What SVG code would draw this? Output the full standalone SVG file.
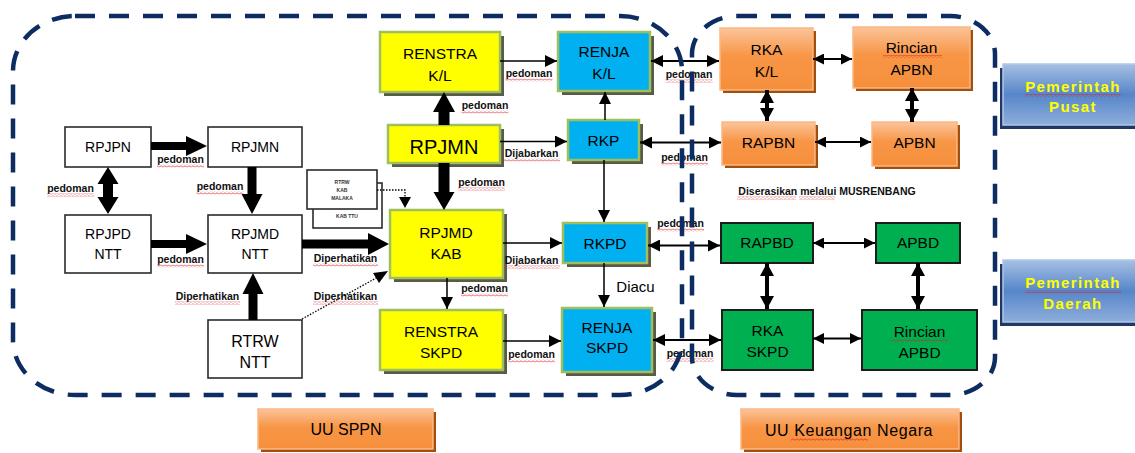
<svg xmlns="http://www.w3.org/2000/svg" width="1135" height="453" viewBox="0 0 1135 453">
<defs>
<linearGradient id="gOr" x1="0" y1="0" x2="0" y2="1">
<stop offset="0" stop-color="#fbc49a"/><stop offset="0.45" stop-color="#f79646"/><stop offset="1" stop-color="#f68f3c"/>
</linearGradient>
<linearGradient id="gBl" x1="0" y1="0" x2="0" y2="1">
<stop offset="0" stop-color="#a6c0e3"/><stop offset="0.5" stop-color="#5686c9"/><stop offset="1" stop-color="#8eaedc"/>
</linearGradient>
<pattern id="wave" width="4" height="3" patternUnits="userSpaceOnUse">
<path d="M0,1.5 Q1,0 2,1.5 T4,1.5" fill="none" stroke="#e02020" stroke-width="0.7"/>
</pattern>
<marker id="ah" markerWidth="12" markerHeight="12" refX="12" refY="6" orient="auto-start-reverse" markerUnits="userSpaceOnUse">
<path d="M0,0 L12,6 L0,12 z" fill="#000"/>
</marker>
<marker id="ahs" markerWidth="11" markerHeight="11" refX="11" refY="5.5" orient="auto-start-reverse" markerUnits="userSpaceOnUse">
<path d="M0,0 L11,5.5 L0,11 z" fill="#000"/>
</marker>
<marker id="ahb" markerWidth="13" markerHeight="14" refX="13" refY="7" orient="auto-start-reverse" markerUnits="userSpaceOnUse">
<path d="M0,0 L13,7 L0,14 z" fill="#000"/>
</marker>
</defs>
<style>
.wh{fill:#fff;stroke:#2b2b2b;stroke-width:1.6}
.ye{fill:#ffff00;stroke:#9fbe5c;stroke-width:2.5}
.bl{fill:#00b0f0;stroke:#9fbe5c;stroke-width:2.5}
.sh{fill:#5a5a4a}
.or{fill:url(#gOr);stroke:#fbb884;stroke-width:1.5}
.osh{fill:#a24f0b}
.gr{fill:#00b050;stroke:#1c1c1c;stroke-width:2}
.pm{fill:url(#gBl);stroke:#b0c8e8;stroke-width:1.5}
.psh{fill:#1f3964}
.t{font-family:"Liberation Sans",Arial,sans-serif;font-size:15.5px;fill:#000;text-anchor:middle}
.tw{font-family:"Liberation Sans",Arial,sans-serif;font-size:14px;fill:#000;text-anchor:middle}
.tp{font-family:"Liberation Sans",Arial,sans-serif;font-size:15px;font-weight:bold;fill:#ffff00;text-anchor:middle;letter-spacing:1.4px}
.tu{font-family:"Liberation Sans",Arial,sans-serif;font-size:16px;fill:#000;text-anchor:middle}
.lb{font-family:"Liberation Sans",Arial,sans-serif;font-size:10.5px;font-weight:bold;fill:#111;text-anchor:middle}
.tiny{font-family:"Liberation Sans",Arial,sans-serif;font-size:5px;font-weight:bold;fill:#333;text-anchor:middle}
.ln{fill:none;stroke:#000;stroke-width:1.5}
.ln2{fill:none;stroke:#000;stroke-width:2}
.lnb{fill:none;stroke:#000;stroke-width:4}
.dot{fill:none;stroke:#000;stroke-width:1.3;stroke-dasharray:1.5 1.5}
.blk{fill:#000}
.wv{fill:url(#wave)}
.rg{fill:none;stroke:#0d2c62;stroke-width:4.5;stroke-dasharray:20 14}
</style>

<!-- white nodes -->
<g id="RPJPN"><rect class="wh" x="65" y="127" width="86" height="40"/><text class="tw" x="108" y="152">RPJPN</text></g>
<g id="RPJMN_nasional"><rect class="wh" x="208" y="127" width="94" height="40"/><text class="tw" x="255" y="152">RPJMN</text></g>
<g id="RPJPD_NTT"><rect class="wh" x="65" y="215" width="86" height="58"/><text class="tw" x="108" y="239">RPJPD</text><text class="tw" x="108" y="259">NTT</text></g>
<g id="RPJMD_NTT"><rect class="wh" x="208" y="215" width="94" height="58"/><text class="tw" x="255" y="239">RPJMD</text><text class="tw" x="255" y="259">NTT</text></g>
<g id="RTRW_NTT"><rect class="wh" x="208" y="320" width="94" height="58"/><text class="tu" x="255" y="347">RTRW</text><text class="tu" x="255" y="368">NTT</text></g>
<g id="RTRW_KAB">
<rect class="wh" x="313" y="183" width="69" height="45" stroke-width="1.3"/><text class="tiny" x="347" y="218">KAB TTU</text>
<rect class="wh" x="307" y="170" width="70" height="39" stroke-width="1.3"/>
<text class="tiny" x="342" y="184">RTRW</text><text class="tiny" x="342" y="192">KAB</text><text class="tiny" x="342" y="200">MALAKA</text>
</g>

<!-- yellow nodes -->
<g id="RENSTRA_KL"><rect class="sh" x="384" y="36" width="120" height="60"/><rect class="ye" x="380" y="32" width="120" height="60"/><text class="t" x="440" y="59">RENSTRA</text><text class="t" x="440" y="81">K/L</text></g>
<g id="RPJMN"><rect class="sh" x="392" y="129" width="112" height="38"/><rect class="ye" x="388" y="125" width="112" height="38"/><text class="t" x="444" y="154" style="font-size:20px">RPJMN</text></g>
<g id="RPJMD_KAB"><rect class="sh" x="394" y="214" width="113" height="68"/><rect class="ye" x="390" y="210" width="113" height="68"/><text class="t" x="446" y="238">RPJMD</text><text class="t" x="446" y="259">KAB</text></g>
<g id="RENSTRA_SKPD"><rect class="sh" x="384" y="314" width="123" height="60"/><rect class="ye" x="380" y="310" width="123" height="60"/><text class="t" x="441" y="337">RENSTRA</text><text class="t" x="441" y="358">SKPD</text></g>

<!-- blue nodes -->
<g id="RENJA_KL"><rect class="sh" x="562" y="36" width="92" height="59"/><rect class="bl" x="558" y="32" width="92" height="59"/><text class="t" x="604" y="57">RENJA</text><text class="t" x="604" y="79">K/L</text></g>
<g id="RKP"><rect class="sh" x="572" y="124" width="71" height="40"/><rect class="bl" x="568" y="120" width="71" height="40"/><text class="t" x="603.5" y="146">RKP</text></g>
<g id="RKPD"><rect class="sh" x="567" y="227" width="84" height="40"/><rect class="bl" x="563" y="223" width="84" height="40"/><text class="t" x="605" y="249">RKPD</text></g>
<g id="RENJA_SKPD"><rect class="sh" x="566" y="312" width="90" height="64"/><rect class="bl" x="562" y="308" width="90" height="64"/><text class="t" x="607" y="333">RENJA</text><text class="t" x="607" y="353">SKPD</text></g>

<!-- orange nodes -->
<g id="RKA_KL"><rect class="osh" x="723" y="31" width="93" height="62"/><rect class="or" x="720" y="28" width="93" height="62"/><text class="t" x="766.5" y="55">RKA</text><text class="t" x="766.5" y="77">K/L</text></g>
<g id="RINCIAN_APBN"><rect class="osh" x="856" y="30" width="117" height="61"/><rect class="or" x="853" y="27" width="117" height="61"/><text class="t" x="911.5" y="53">Rincian</text><text class="t" x="911.5" y="75">APBN</text><rect class="wv" x="883" y="55" width="59" height="3"/></g>
<g id="RAPBN"><rect class="osh" x="725" y="125" width="93" height="43"/><rect class="or" x="722" y="122" width="93" height="43"/><text class="t" x="768.5" y="148">RAPBN</text></g>
<g id="APBN"><rect class="osh" x="875" y="125" width="85" height="44"/><rect class="or" x="872" y="122" width="85" height="44"/><text class="t" x="914.5" y="148">APBN</text></g>

<!-- green nodes -->
<g id="RAPBD"><rect class="gr" x="721" y="223" width="92" height="40"/><text class="t" x="767" y="248">RAPBD</text></g>
<g id="APBD"><rect class="gr" x="876" y="223" width="84" height="40"/><text class="t" x="918" y="248">APBD</text></g>
<g id="RKA_SKPD"><rect class="gr" x="722" y="310" width="91" height="60"/><text class="t" x="767.5" y="336">RKA</text><text class="t" x="767.5" y="357">SKPD</text></g>
<g id="RINCIAN_APBD"><rect class="gr" x="862" y="310" width="115" height="60"/><text class="t" x="919.5" y="337">Rincian</text><text class="t" x="919.5" y="358">APBD</text><rect class="wv" x="891" y="339" width="57" height="3"/></g>

<!-- side labels -->
<g id="PEMERINTAH_PUSAT"><rect class="psh" x="1000" y="68" width="140" height="61"/><rect class="pm" x="1003" y="64" width="135" height="61"/><text class="tp" x="1073" y="92">Pemerintah</text><text class="tp" x="1073" y="112">Pusat</text><rect class="wv" x="1025" y="94" width="96" height="3"/></g>
<g id="PEMERINTAH_DAERAH"><rect class="psh" x="1000" y="264" width="140" height="62"/><rect class="pm" x="1003" y="260" width="135" height="62"/><text class="tp" x="1073" y="288">Pemerintah</text><text class="tp" x="1073" y="309">Daerah</text><rect class="wv" x="1025" y="290" width="96" height="3"/></g>
<g id="UU_SPPN"><rect class="osh" x="261" y="412" width="175" height="40"/><rect class="or" x="258" y="409" width="175" height="40"/><text class="tu" x="346" y="435">UU SPPN</text></g>
<g id="UU_KEUANGAN_NEGARA"><rect class="osh" x="744" y="412" width="218" height="40"/><rect class="or" x="741" y="409" width="218" height="40"/><text class="tu" x="849" y="436" style="letter-spacing:0.6px">UU Keuangan  Negara</text><rect class="wv" x="791" y="438" width="77" height="3"/></g>

<!-- connectors -->
<g id="connectors">
<polygon class="blk" points="151,142 186,142 186,136 207,146 186,156 186,150 151,150"/>
<polygon class="blk" points="151,240 186,240 186,234 207,244 186,254 186,248 151,248"/>
<polygon class="blk" points="302,239.5 368,239.5 368,233 389,244 368,255 368,248.5 302,248.5"/>
<polygon class="blk" points="108,167 118.5,184 113,184 113,197 118.5,197 108,214 97.5,197 103,197 103,184 97.5,184"/>
<polygon class="blk" points="247.5,167 256.5,167 256.5,194 262.5,194 252,214 241.5,194 247.5,194"/>
<polygon class="blk" points="248.5,320 257.5,320 257.5,294 263.5,294 253,273 242.5,294 248.5,294"/>
<polygon class="blk" points="438.5,125 449.5,125 449.5,112 455,112 444,92 433,112 438.5,112"/>
<polygon class="blk" points="438.5,163 449.5,163 449.5,192 454.5,192 444,210 433.5,192 438.5,192"/>
<path class="dot" d="M377,190 H405 V198"/>
<polygon class="blk" points="399,197 411,197 405,208"/>
<path class="dot" d="M302,319 L378,277"/>
<polygon class="blk" points="388,271 379,283 373,273"/>
<path class="ln" d="M500,61 H557" marker-end="url(#ah)"/>
<path class="ln" d="M605,120 V92" marker-end="url(#ah)"/>
<path class="ln" d="M500,141.5 H567" marker-end="url(#ah)"/>
<path class="ln" d="M604,160 V222" marker-end="url(#ah)"/>
<path class="ln" d="M503,243 H562" marker-end="url(#ah)"/>
<path class="ln" d="M604,263 V307" marker-end="url(#ah)"/>
<path class="ln" d="M447,278 V309" marker-end="url(#ah)"/>
<path class="ln" d="M503,341 H561" marker-end="url(#ah)"/>
<path class="ln2" d="M651,61 H719" marker-start="url(#ah)" marker-end="url(#ah)"/>
<path class="ln2" d="M640,142.5 H721" marker-start="url(#ah)" marker-end="url(#ah)"/>
<path class="ln2" d="M648,245.5 H720" marker-start="url(#ah)" marker-end="url(#ah)"/>
<path class="ln2" d="M653,340 H721" marker-start="url(#ah)" marker-end="url(#ah)"/>
<path class="ln2" d="M813,59 H852" marker-start="url(#ahs)" marker-end="url(#ahs)"/>
<path class="ln2" d="M815,142 H871" marker-start="url(#ahs)" marker-end="url(#ahs)"/>
<path class="ln2" d="M813,243 H875" marker-start="url(#ahs)" marker-end="url(#ahs)"/>
<path class="ln2" d="M813,338.5 H861" marker-start="url(#ahs)" marker-end="url(#ahs)"/>
<path class="lnb" d="M767,90 V121" marker-start="url(#ahb)" marker-end="url(#ahb)"/>
<path class="lnb" d="M912,88 V122" marker-start="url(#ahb)" marker-end="url(#ahb)"/>
<path class="lnb" d="M767,263 V309" marker-start="url(#ahb)" marker-end="url(#ahb)"/>
<path class="lnb" d="M918,263 V309" marker-start="url(#ahb)" marker-end="url(#ahb)"/>
</g>

<!-- connector labels -->
<g id="labels">
<text class="lb" x="180.5" y="163">pedoman</text><rect class="wv" x="157" y="164.5" width="47" height="3"/>
<text class="lb" x="70.5" y="192">pedoman</text><rect class="wv" x="47" y="193.5" width="47" height="3"/>
<text class="lb" x="220" y="190">pedoman</text><rect class="wv" x="196.5" y="191.5" width="47" height="3"/>
<text class="lb" x="180.5" y="263">pedoman</text><rect class="wv" x="157" y="264.5" width="47" height="3"/>
<text class="lb" x="345.5" y="262">Diperhatikan</text><rect class="wv" x="313" y="263.5" width="65" height="3"/>
<text class="lb" x="207.5" y="300">Diperhatikan</text><rect class="wv" x="175" y="301.5" width="65" height="3"/>
<text class="lb" x="345.5" y="300">Diperhatikan</text><rect class="wv" x="313" y="301.5" width="65" height="3"/>
<text class="lb" x="529" y="77">pedoman</text><rect class="wv" x="505.5" y="78.5" width="47" height="3"/>
<text class="lb" x="485" y="109">pedoman</text><rect class="wv" x="461.5" y="110.5" width="47" height="3"/>
<text class="lb" x="531.5" y="157">Dijabarkan</text><rect class="wv" x="504" y="158.5" width="56" height="3"/>
<text class="lb" x="481.5" y="186">pedoman</text><rect class="wv" x="458" y="187.5" width="47" height="3"/>
<text class="lb" x="689" y="78">pedoman</text><rect class="wv" x="665.5" y="79.5" width="47" height="3"/>
<text class="lb" x="684.5" y="161">pedoman</text><rect class="wv" x="661" y="162.5" width="47" height="3"/>
<text class="lb" x="827" y="195">Diserasikan melalui MUSRENBANG</text><rect class="wv" x="737" y="196.5" width="59" height="3"/><rect class="wv" x="799" y="196.5" width="36" height="3"/>
<text class="lb" x="680.5" y="227">pedoman</text><rect class="wv" x="657" y="228.5" width="47" height="3"/>
<text class="lb" x="690" y="357">pedoman</text><rect class="wv" x="666.5" y="358.5" width="47" height="3"/>
<text class="lb" x="531.5" y="264">Dijabarkan</text><rect class="wv" x="504" y="265.5" width="56" height="3"/>
<text class="lb" x="484.5" y="292">pedoman</text><rect class="wv" x="461" y="293.5" width="47" height="3"/>
<text class="t" x="635.5" y="292" style="font-size:15px">Diacu</text>
<text class="lb" x="531.5" y="358">pedoman</text><rect class="wv" x="508" y="359.5" width="47" height="3"/>
</g>

<!-- dashed regions -->
<g id="regions">
<rect id="region_SPPN" class="rg" x="13" y="16" width="669" height="379" rx="62" ry="55"/>
<rect id="region_KeuNeg" class="rg" x="692" y="16" width="303" height="379" rx="45" ry="38"/>
</g>
</svg>
